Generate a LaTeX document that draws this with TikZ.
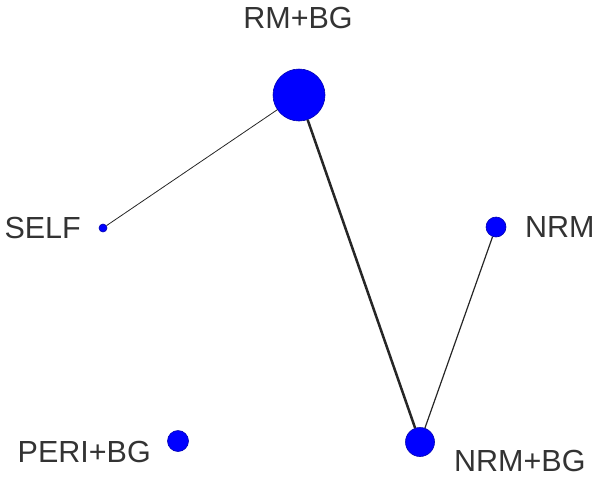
\documentclass[tikz,border=0pt]{standalone}
\usepackage{fontspec}
\setmainfont{Liberation Sans}
\usepackage{tikz}

\begin{document}
\begin{tikzpicture}[
    x=1pt, y=-1pt,
    dot/.style={circle, draw=blue!70!black, line width=0.6pt, fill=blue, inner sep=0pt},
    lbl/.style={font=\fontsize{30.5}{33}\selectfont, text=black!80, inner sep=0pt},
    link/.style={draw=black!85}
]
\useasboundingbox (0,0) rectangle (597,477);

% treatments
\node[dot, minimum size=52pt] (rmbg) at (299,95) {};
\node[dot, minimum size=8pt] (self) at (103,228) {};
\node[dot, minimum size=20pt] (nrm) at (496,227) {};
\node[dot, minimum size=21pt] (peribg) at (178,441) {};
\node[dot, minimum size=29pt] (nrmbg) at (420,442) {};

% labels
\node[lbl] (rmbg-t) at (298,18) {RM+BG};
\node[lbl, anchor=east] (self-t) at (81,228) {SELF};
\node[lbl, anchor=west] (nrm-t) at (525,227) {NRM};
\node[lbl, anchor=east] (peribg-t) at (151,452) {PERI+BG};
\node[lbl, anchor=west] (nrmbg-t) at (454,461) {NRM+BG};

% comparisons
\draw[link, line width=0.8pt] (rmbg) -- (self);
\draw[link, line width=2.5pt] (rmbg) -- (nrmbg);
\draw[link, line width=1.2pt] (nrm) -- (nrmbg);
\end{tikzpicture}
\end{document}
